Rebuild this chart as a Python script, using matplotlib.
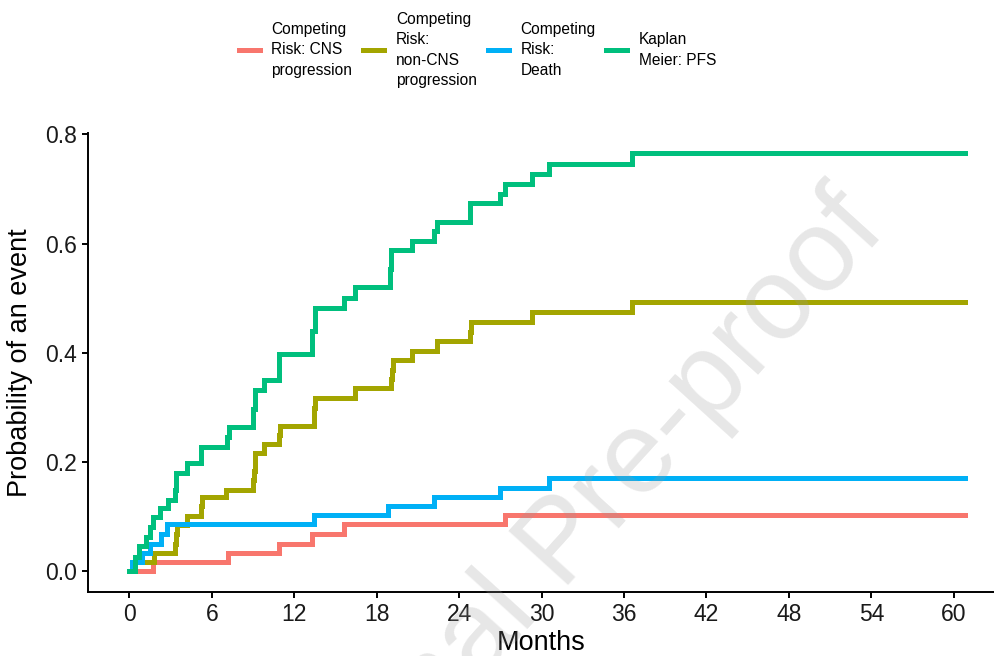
import matplotlib
matplotlib.use("Agg")
import matplotlib.pyplot as plt

# step times (months) and cumulative probabilities
cns_t = [0, 1.7, 7.2, 10.9, 13.3, 15.6, 27.3, 60.8]
cns_p = [0, 0.017, 0.034, 0.051, 0.068, 0.086, 0.103, 0.103]

noncns_t = [0, 0.3, 1.8, 3.3, 3.35, 3.45, 4.2, 5.2, 5.25, 7.05, 9.0, 9.05, 9.1, 9.15,
            9.8, 10.9, 10.95, 13.4, 13.45, 13.5, 16.4, 19.05, 19.1, 19.15, 20.6, 22.4,
            24.8, 24.85, 29.3, 36.6, 60.8]
noncns_p = [0, 0.017, 0.034, 0.051, 0.068, 0.085, 0.102, 0.119, 0.136, 0.150, 0.167,
            0.184, 0.200, 0.216, 0.233, 0.250, 0.267, 0.284, 0.300, 0.318, 0.335, 0.352,
            0.369, 0.387, 0.404, 0.421, 0.438, 0.456, 0.474, 0.494, 0.494]

death_t = [0, 0.2, 0.9, 1.5, 2.3, 2.7, 13.4, 18.8, 22.2, 27.0, 30.5, 60.8]
death_p = [0, 0.017, 0.034, 0.051, 0.068, 0.086, 0.103, 0.119, 0.136, 0.153, 0.171, 0.171]

km_t = [0, 0.4, 0.7, 1.2, 1.5, 1.7, 2.2, 2.8, 3.3, 3.4, 4.2, 5.2, 7.1, 7.25, 9.0, 9.1,
        9.8, 10.9, 13.3, 13.5, 15.6, 16.4, 18.95, 19.05, 20.6, 22.2, 22.35, 24.8, 27.0,
        27.3, 29.3, 30.5, 36.6, 60.8]
km_p = [0, 0.027, 0.046, 0.064, 0.082, 0.100, 0.117, 0.131, 0.150, 0.180, 0.198, 0.228,
        0.246, 0.265, 0.297, 0.332, 0.350, 0.398, 0.440, 0.483, 0.501, 0.520, 0.553, 0.588,
        0.605, 0.623, 0.640, 0.675, 0.690, 0.709, 0.727, 0.746, 0.766, 0.766]

labels = ["Competing\nRisk: CNS\nprogression",
          "Competing\nRisk:\nnon-CNS\nprogression",
          "Competing\nRisk:\nDeath",
          "Kaplan\nMeier: PFS"]
colors = ["#F8766D", "#A3A500", "#00B0F6", "#00BF7D"]

xticks = list(range(0, 61, 6))
yticks = [0.0, 0.2, 0.4, 0.6, 0.8]

plt.rcParams["font.family"] = ["Liberation Sans", "DejaVu Sans"]

fig = plt.figure(figsize=(9.95, 6.56), dpi=100)
ax = fig.add_axes([88 / 995, 1 - 591.7 / 656, 1 - 88 / 995, (591.7 - 132.7) / 656])

series = [(cns_t, cns_p), (noncns_t, noncns_p), (death_t, death_p), (km_t, km_p)]
for (t, p), lab, col in zip(series, labels, colors):
    ax.step(t, p, where="post", color=col, lw=3.6, label=lab, solid_joinstyle="miter")

ax.set_xlim(-3.02, 63.0)
ax.set_ylim(-0.037, 0.803)
ax.set_xticks(xticks)
ax.set_yticks(yticks)
ax.set_yticklabels([f"{v:.1f}" for v in yticks])
ax.tick_params(labelsize=16.5, length=4, width=1.4, pad=4, colors="black", labelcolor="#1a1a1a")
for s in ["top", "right"]:
    ax.spines[s].set_visible(False)
for s in ["left", "bottom"]:
    ax.spines[s].set_linewidth(1.4)
ax.set_xlabel("Months", fontsize=19.5, labelpad=3)
ax.set_ylabel("Probability of an event", fontsize=19.5, labelpad=9)

leg = fig.legend(loc="center", bbox_to_anchor=(0.48, 0.924), ncol=4, frameon=False,
                 fontsize=11.2, handlelength=1.35, handletextpad=0.75, columnspacing=0.7)
plt.setp(leg.get_texts(), linespacing=1.45)
leg._legend_handle_box.align = "center"
for col in leg._legend_handle_box.get_children():
    for row in col.get_children():
        row.align = "center"
for line in leg.get_lines():
    line.set_linewidth(3.6)

# watermark
fig.text(888 / 995, 1 - 232 / 656, "Journal Pre-proof", fontsize=84, color="#999999",
         alpha=0.24, rotation=47.8, rotation_mode="anchor", ha="right", va="baseline")

fig.savefig("out.png", dpi=100)
